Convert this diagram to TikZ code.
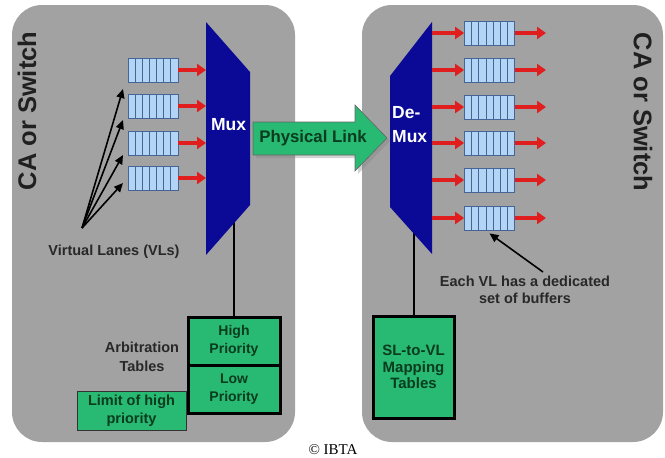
\documentclass[tikz,border=0pt]{standalone}
\usepackage{fontspec}
\setmainfont{Liberation Serif}
\setsansfont{Liberation Sans}
\usetikzlibrary{arrows.meta,shadows,calc}
\definecolor{bggray}{RGB}{162,162,162}
\definecolor{muxblue}{RGB}{10,10,150}
\definecolor{lgreen}{RGB}{40,185,115}
\definecolor{dgreen}{RGB}{10,60,30}
\definecolor{bufblue}{RGB}{178,212,245}
\definecolor{bufline}{RGB}{70,100,150}
\definecolor{redarr}{RGB}{225,30,30}
\definecolor{txtgray}{RGB}{40,40,40}
\tikzset{
  panel/.style={fill=bggray, rounded corners=30pt, inner sep=0pt},
  buf/.style={draw=bufline, line width=0.8pt, fill=bufblue, minimum width=50pt, minimum height=24pt, inner sep=0pt,
    path picture={\foreach \k in {1,...,6}{\draw[bufline, line width=0.8pt]
      ($(path picture bounding box.south west)!\k/7!(path picture bounding box.south east)$) --
      ($(path picture bounding box.north west)!\k/7!(path picture bounding box.north east)$);}}},
  redarrow/.style={draw=redarr, line width=3.2pt, -{Triangle[length=9pt,width=12pt]}},
  blackarrow/.style={draw=black, line width=1.6pt, -{Triangle[length=9pt,width=8pt]}},
  muxtext/.style={text=white, font=\sffamily\bfseries\fontsize{17.5}{24}\selectfont, inner sep=0pt, align=left},
  tblbox/.style={draw=black, line width=3pt, fill=lgreen, inner sep=0pt, align=center, text=dgreen,
    font=\sffamily\bfseries\fontsize{14}{17.5}\selectfont},
  thinbox/.style={draw=black!80, line width=1pt, fill=lgreen, inner sep=0pt, align=center, text=dgreen,
    font=\sffamily\bfseries\fontsize{14.5}{18.5}\selectfont},
  lbl/.style={text=txtgray, align=center, inner sep=0pt, font=\sffamily\bfseries\fontsize{14.5}{16.5}\selectfont},
  side/.style={text=txtgray!80!black, inner sep=0pt, font=\sffamily\bfseries\fontsize{25.5}{28}\selectfont},
  conn/.style={draw=black, line width=2pt},
}
\begin{document}
\begin{tikzpicture}[x=1pt,y=-1pt]
\useasboundingbox (0,0) rectangle (665,458);
\fill[white] (0,0) rectangle (665,458);
% panels
\node[panel, minimum width=283pt, minimum height=437pt] (leftpanel) at (153.5,223.5) {};
\node[panel, minimum width=301pt, minimum height=437pt] (rightpanel) at (512.5,223.5) {};
% side labels
\node[side, rotate=90] (caL) at (27,111) {CA or Switch};
\node[side, rotate=-90] (caR) at (643,112) {CA or Switch};
% tables left
\node[tblbox, minimum width=92pt, minimum height=48pt] (hp) at (234,341) {High\\Priority};
\node[tblbox, minimum width=92pt, minimum height=48pt] (lp) at (234,389) {Low\\Priority};
\node[thinbox, minimum width=109pt, minimum height=39pt] (lim) at (131.5,410.5) {Limit of high\\priority};
\node[lbl, font=\sffamily\bfseries\fontsize{14.5}{19}\selectfont] (arb) at (142,357) {Arbitration\\Tables};
% connector mux to tables
\draw[conn] (hp.north) -- ++(0,-120) coordinate (muxc);
% Mux
\coordinate (m1) at (206,22);
\coordinate (m2) at (250,72);
\coordinate (m3) at (250,205);
\coordinate (m4) at (206,255);
\fill[muxblue] (m1) -- (m2) -- (m3) -- (m4) -- cycle;
\node[muxtext] (muxlbl) at (228.5,125) {Mux};
% SL-to-VL
\node[tblbox, minimum width=81pt, minimum height=102pt, font=\sffamily\bfseries\fontsize{15}{16.5}\selectfont] (sl) at (413.5,367) {SL-to-VL\\Mapping\\Tables};
\draw[conn] (sl.north) -- ++(0,-120) coordinate (demuxc);
% DeMux
\coordinate (d1) at (432,22);
\coordinate (d2) at (432,254);
\coordinate (d3) at (390,207);
\coordinate (d4) at (390,76);
\fill[muxblue] (d1) -- (d2) -- (d3) -- (d4) -- cycle;
\node[muxtext, anchor=west] (demuxlbl) at (392,125) {De-\\Mux};
% physical link
\coordinate (p1) at (253,122);
\coordinate (p2) at (355,122);
\coordinate (p3) at (355,105);
\coordinate (p4) at (387,138);
\coordinate (p5) at (355,171);
\coordinate (p6) at (355,155);
\coordinate (p7) at (253,155);
\filldraw[fill=lgreen, draw=black!60, line width=0.6pt, drop shadow={shadow xshift=3pt, shadow yshift=-3pt, opacity=0.35}]
  (p1) -- (p2) -- (p3) -- (p4) -- (p5) -- (p6) -- (p7) -- cycle;
\node[text=dgreen, inner sep=0pt, font=\sffamily\bfseries\fontsize{16.8}{18}\selectfont] (plink) at (313,138.5) {Physical Link};
% left buffers
\foreach \i/\y in {1/70,2/106,3/143,4/178}{
  \node[buf] (bL\i) at (153,\y) {};
  \draw[redarrow] (bL\i.east) -- (206,\y);
}
% right buffers
\foreach \i/\y in {1/33,2/70,3/107,4/143,5/180,6/218}{
  \node[buf] (bR\i) at (489.5,\y) {};
  \draw[redarrow] (432,\y) -- (bR\i.west);
  \coordinate (out\i) at (546,\y);
  \draw[redarrow] (bR\i.east) -- (out\i);
}
% VL arrows
\coordinate (vlsrc) at (82,228);
\coordinate (t1) at (123,89);
\coordinate (t2) at (123,120);
\coordinate (t3) at (123,155);
\coordinate (t4) at (123,183);
\foreach \i in {1,...,4}{\draw[blackarrow] (vlsrc) -- (t\i);}
\node[lbl] (vl) at (114,252) {Virtual Lanes (VLs)};
% each VL
\node[lbl] (each) at (525,290) {Each VL has a dedicated\\set of buffers};
\coordinate (eachsrc) at (543,272);
\draw[blackarrow] (eachsrc) -- ($(bR6.south)+(0,3)$);
% copyright
\node[inner sep=0pt, font=\fontsize{15}{17}\selectfont] (ibta) at (333,450) {\textcopyright\ IBTA};
\end{tikzpicture}
\end{document}
